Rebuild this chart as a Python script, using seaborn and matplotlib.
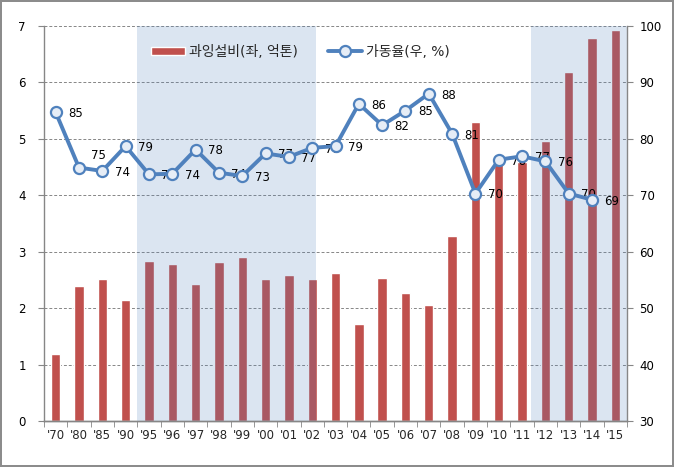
import numpy as np
import matplotlib
matplotlib.use("Agg")
import matplotlib.pyplot as plt
import seaborn as sns

# data
years = ["'70", "'80", "'85", "'90", "'95", "'96", "'97", "'98", "'99", "'00",
         "'01", "'02", "'03", "'04", "'05", "'06", "'07", "'08", "'09", "'10",
         "'11", "'12", "'13", "'14", "'15"]
excess = [1.18, 2.39, 2.52, 2.15, 2.84, 2.78, 2.43, 2.82, 2.91, 2.52,
          2.59, 2.52, 2.62, 1.71, 2.53, 2.27, 2.06, 3.28, 5.30, 4.70,
          4.59, 4.96, 6.18, 6.79, 6.93]
rate = [84.7, 74.9, 74.3, 78.7, 73.7, 73.8, 78.1, 74.0, 73.4, 77.4,
        76.8, 78.4, 78.7, 86.2, 82.4, 85.0, 88.0, 80.9, 70.3, 76.3,
        76.9, 76.0, 70.3, 69.2, np.nan]
rate_labels = ["85", "75", "74", "79", "74", "74", "78", "74", "73", "77",
               "77", "78", "79", "86", "82", "85", "88", "81", "70", "76",
               "77", "76", "70", "69", ""]

sns.set_style("white")
plt.rcParams['font.family'] = ['DejaVu Sans', 'Noto Sans CJK KR']

red = "#C0504D"
blue = "#4F81BD"
gray = "#868686"

fig = plt.figure(figsize=(6.74, 4.67), dpi=100)
fig.patch.set_edgecolor("#8c8c8c")
fig.patch.set_linewidth(1.5)
ax1 = fig.add_axes([0.0653, 0.0985, 0.865, 0.846])

sns.barplot(x=years, y=excess, color=red, saturation=1, width=0.4,
            ax=ax1, label="과잉설비(좌, 억톤)", zorder=2)

# shaded periods drawn over the bars
ax1.axvspan(3.5, 11.15, color=blue, alpha=0.2, lw=0, zorder=3)
ax1.axvspan(20.38, 24.5, color=blue, alpha=0.2, lw=0, zorder=3)

ax1.set_xlim(-0.5, len(years) - 0.5)
ax1.set_ylim(0, 7)
ax1.set_yticks(range(0, 8))
ax1.yaxis.grid(True, color=gray, linestyle=(0, (3, 2)), linewidth=0.7)
ax1.set_axisbelow(True)
ax1.set_xlabel("")

ax2 = ax1.twinx()
x = np.arange(len(years))
sns.lineplot(x=x, y=rate, ax=ax2, color=blue, linewidth=2.8, marker="o",
             markersize=8, markerfacecolor="#E6EDF6", markeredgecolor=blue,
             markeredgewidth=1.6, label="가동율(우, %)", zorder=5)
for xi, yi, lab in zip(x, rate, rate_labels):
    if lab:
        dy = 9 if xi == 1 else -1
        ax2.annotate(lab, (xi, yi), xytext=(9, dy), textcoords="offset points",
                     ha="left", va="center", fontsize=8.5, color="black")
ax2.set_ylim(30, 100)
ax2.set_yticks(range(30, 101, 10))
ax2.set_ylabel("")

for ax in (ax1, ax2):
    ax.spines["top"].set_visible(False)
    for s in ("left", "right", "bottom"):
        ax.spines[s].set_color(gray)
        ax.spines[s].set_linewidth(1)
    ax.tick_params(axis="y", labelsize=8.5, length=4, color=gray, direction="out",
                   labelcolor="black")

ax1.spines["right"].set_visible(False)
ax2.spines["left"].set_visible(False)
ax1.tick_params(axis="y", left=True, pad=9)
ax2.tick_params(axis="y", right=True, pad=5)

ax1.set_xticks(x)
ax1.set_xticklabels(years)
ax1.tick_params(axis="x", which="major", length=0, labelsize=8.5, pad=6)
ax1.set_xticks(np.arange(-0.5, len(years), 1), minor=True)
ax1.tick_params(axis="x", which="minor", length=4, color=gray, bottom=True)

h1, l1 = ax1.get_legend_handles_labels()
h2, l2 = ax2.get_legend_handles_labels()
if ax1.get_legend():
    ax1.get_legend().remove()
ax2.legend(h1 + h2, l1 + l2, loc="center", bbox_to_anchor=(0.44, 0.935), ncol=2,
           frameon=False, fontsize=10, handlelength=2.4, handleheight=0.55,
           columnspacing=2.2, handletextpad=0.3)

fig.savefig("out.png", dpi=100, edgecolor=fig.get_edgecolor())
